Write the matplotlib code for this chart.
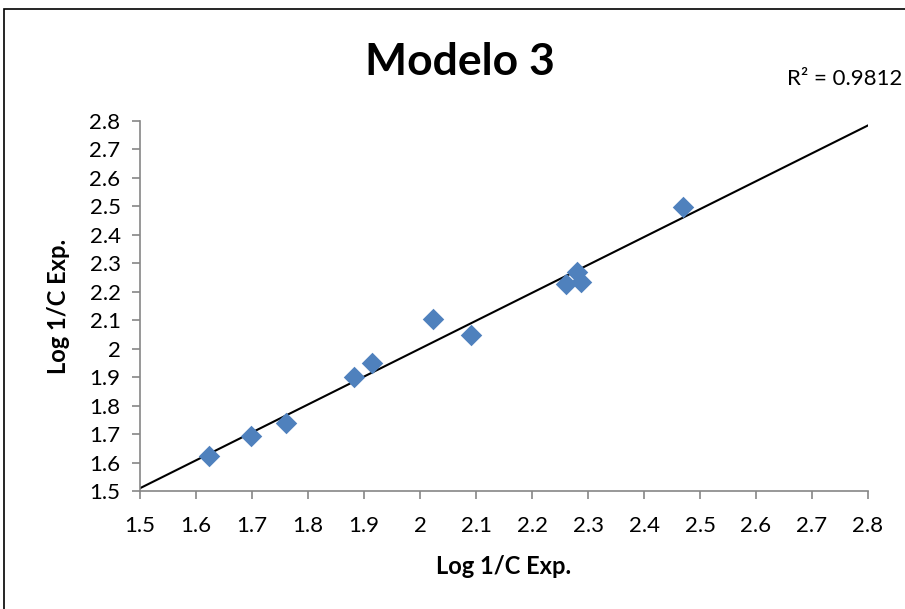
import numpy as np
import matplotlib.pyplot as plt
from matplotlib.patches import Rectangle

plt.rcParams["font.family"] = ["Lato", "DejaVu Sans"]

# Log 1/C: experimental vs predicted (model 3)
x_vals = [1.623, 1.698, 1.761, 1.882, 1.914, 2.023, 2.091, 2.261, 2.280, 2.288, 2.470]
y_vals = [1.623, 1.693, 1.739, 1.901, 1.950, 2.104, 2.048, 2.227, 2.269, 2.234, 2.498]

title = "Modelo 3"
r2_text = "R² = 0.9812"
axis_label = "Log 1/C Exp."

ticks = np.round(np.arange(1.5, 2.81, 0.1), 1)
tick_labels = ["1.5", "1.6", "1.7", "1.8", "1.9", "2", "2.1", "2.2",
               "2.3", "2.4", "2.5", "2.6", "2.7", "2.8"]

fig = plt.figure(figsize=(9.05, 6.09), dpi=100)
ax = fig.add_axes([140 / 905, 1 - 491 / 609, 728 / 905, 370 / 609])

# outer chart frame
fig.patches.append(Rectangle((4 / 905, -0.1), 1.2, 1 - 9 / 609 + 0.1,
                             transform=fig.transFigure, fill=False,
                             edgecolor="black", linewidth=1.2))

ax.scatter(x_vals, y_vals, marker="D", s=120, color="#4f81bd", zorder=3,
           linewidths=0)

# linear trendline across the full axis range
slope, intercept = np.polyfit(x_vals, y_vals, 1)
xl = np.array([1.5, 2.8])
ax.plot(xl, slope * xl + intercept, color="black", linewidth=1.5, zorder=2)

ax.set_xlim(1.5, 2.8)
ax.set_ylim(1.5, 2.8)
ax.set_xticks(ticks)
ax.set_xticklabels(tick_labels)
ax.set_yticks(ticks)
ax.set_yticklabels(tick_labels)

for s in ["top", "right"]:
    ax.spines[s].set_visible(False)
for s in ["left", "bottom"]:
    ax.spines[s].set_color("#868686")
    ax.spines[s].set_linewidth(1.2)
ax.tick_params(direction="out", length=6, width=1.2, color="#868686",
               labelsize=16)
ax.tick_params(axis="x", pad=12)
ax.tick_params(axis="y", pad=8)

ax.set_xlabel(axis_label, fontsize=17, fontweight="bold", labelpad=14)
ax.set_ylabel(axis_label, fontsize=17, fontweight="bold", labelpad=14)

fig.text(460 / 905, 1 - 62 / 609, title, fontsize=32, fontweight="bold",
         ha="center", va="center")
fig.text(845 / 905, 1 - 79 / 609, r2_text, fontsize=16, ha="center", va="center")

fig.savefig("out.png", dpi=100)
